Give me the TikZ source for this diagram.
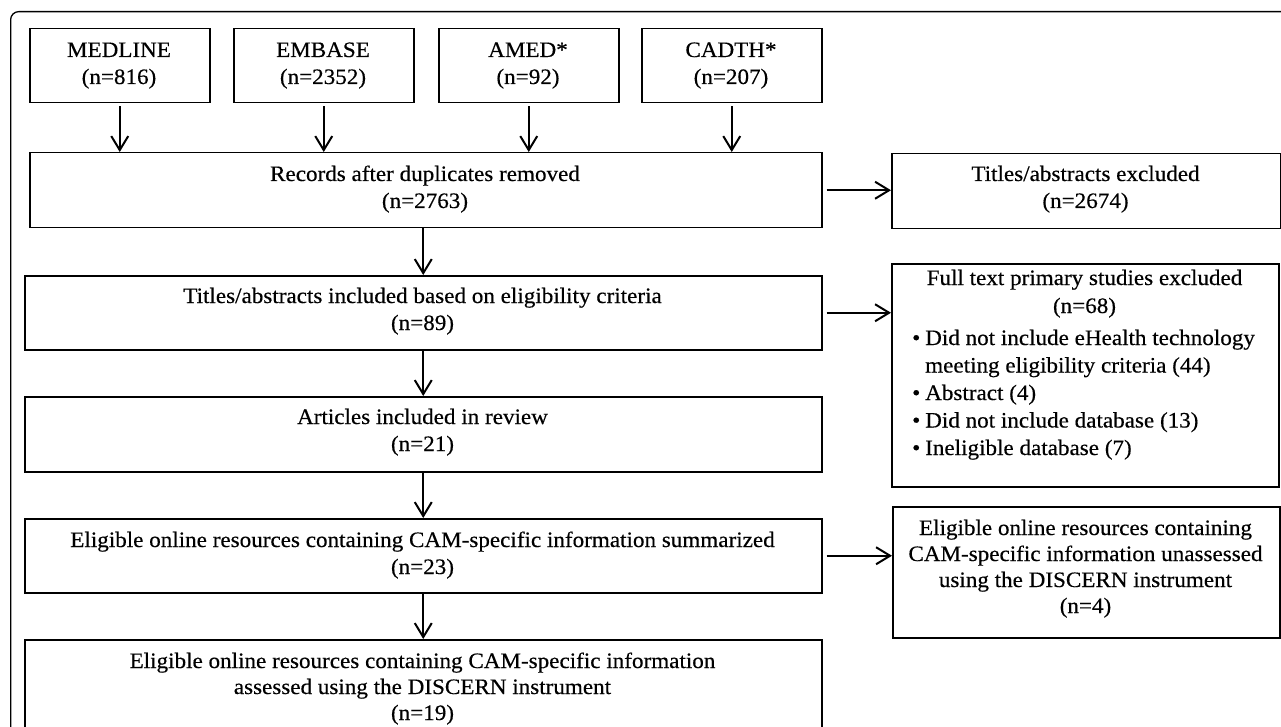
\documentclass[tikz,border=0pt]{standalone}
\usepackage{fontspec}
\setmainfont{Liberation Serif}[FakeStretch=1.05,FakeBold=0.4]
\usetikzlibrary{arrows.meta}
\tikzset{
  box/.style={draw, line width=1.5pt, inner sep=0pt, anchor=north west},
  txt/.style={anchor=base, inner sep=0pt, font=\fontsize{22}{28}\selectfont},
  ltxt/.style={anchor=base west, inner sep=0pt, font=\fontsize{22}{28}\selectfont},
  arr/.style={draw, line width=2pt, -{Straight Barb[length=14pt,width=17pt,line width=2pt]}},
  frame/.style={draw, line width=1.3pt, rounded corners=8pt, inner sep=0pt, anchor=north west}
}
\newcommand\mybx[5]{\node[box, minimum width=#4pt, minimum height=#5pt] (#1) at (#2,#3) {};}
\newcommand\myctl[4]{\node[txt] (#1) at (#2,#3) {#4};}
\newcommand\mylft[4]{\node[ltxt] (#1) at (#2,#3) {#4};}
\begin{document}
\begin{tikzpicture}[x=1pt,y=-1pt]
\clip (0,0) rectangle (1281,727);
\fill[white] (0,0) rectangle (1281,727);
\node[frame, minimum width=1300pt, minimum height=760pt] (outer) at (10,11) {};
% source boxes
\mybx{med}{29}{28}{180}{74}
\mybx{emb}{233}{28}{180}{74}
\mybx{amed}{438}{28}{180}{74}
\mybx{cad}{641}{28}{180}{74}
\myctl{medA}{119}{57}{MEDLINE}\myctl{medB}{119}{84}{(n=816)}
\myctl{embA}{323}{57}{EMBASE}\myctl{embB}{323}{84}{(n=2352)}
\myctl{amedA}{528}{57}{AMED*}\myctl{amedB}{528}{84}{(n=92)}
\myctl{cadA}{731}{57}{CADTH*}\myctl{cadB}{731}{84}{(n=207)}
% records
\mybx{rec}{29}{152}{792}{75}
\myctl{recA}{425}{181}{Records after duplicates removed}
\myctl{recB}{425}{208}{(n=2763)}
% titles excluded
\mybx{tex}{891}{153}{389}{75}
\myctl{texA}{1085.5}{181}{Titles/abstracts excluded}
\myctl{texB}{1085.5}{208}{(n=2674)}
% titles included
\mybx{tin}{24}{275}{797}{74}
\myctl{tinA}{422.5}{303}{Titles/abstracts included based on eligibility criteria}
\myctl{tinB}{422.5}{330}{(n=89)}
% full text excluded
\mybx{ft}{891}{263}{387}{223}
\myctl{ftA}{1084.5}{285}{Full text primary studies excluded}
\myctl{ftB}{1084.5}{313}{(n=68)}
\mylft{b1}{912}{345}{\textbullet}\mylft{ft1}{925}{345}{Did not include eHealth technology}
\mylft{ft2}{925}{372.5}{meeting eligibility criteria (44)}
\mylft{b3}{912}{400}{\textbullet}\mylft{ft3}{925}{400}{Abstract (4)}
\mylft{b4}{912}{427.5}{\textbullet}\mylft{ft4}{925}{427.5}{Did not include database (13)}
\mylft{b5}{912}{455}{\textbullet}\mylft{ft5}{925}{455}{Ineligible database (7)}
% articles
\mybx{art}{24}{396}{797}{75}
\myctl{artA}{422.5}{424}{Articles included in review}
\myctl{artB}{422.5}{451}{(n=21)}
% summarized
\mybx{sum}{24}{518}{797}{74}
\myctl{sumA}{422.5}{547}{Eligible online resources containing CAM-specific information summarized}
\myctl{sumB}{422.5}{574}{(n=23)}
% unassessed
\mybx{una}{892}{506}{387}{131}
\myctl{unaA}{1085.5}{535}{Eligible online resources containing}
\myctl{unaB}{1085.5}{561}{CAM-specific information unassessed}
\myctl{unaC}{1085.5}{587}{using the DISCERN instrument}
\myctl{unaD}{1085.5}{613}{(n=4)}
% bottom
\mybx{bot}{24}{639}{797}{120}
\myctl{botA}{422.5}{668}{Eligible online resources containing CAM-specific information}
\myctl{botB}{422.5}{694}{assessed using the DISCERN instrument}
\myctl{botC}{422.5}{720}{(n=19)}
% arrows
\draw[arr, shorten <=3pt] (med.south) -- (med.south |- rec.north);
\draw[arr, shorten <=3pt] (emb.south) -- (emb.south |- rec.north);
\draw[arr, shorten <=3pt] (amed.south) -- (amed.south |- rec.north);
\draw[arr, shorten <=3pt] (cad.south) -- (cad.south |- rec.north);
\draw[arr] (rec.south -| tin.north) -- (tin.north);
\draw[arr] (tin.south) -- (art.north);
\draw[arr] (art.south) -- (sum.north);
\draw[arr] (sum.south) -- (bot.north);
\draw[arr, shorten <=4pt] (rec.east) -- (rec.east -| tex.west);
\draw[arr, shorten <=4pt] (tin.east) -- (tin.east -| ft.west);
\draw[arr, shorten <=4pt] (sum.east) -- (sum.east -| una.west);
\end{tikzpicture}
\end{document}
